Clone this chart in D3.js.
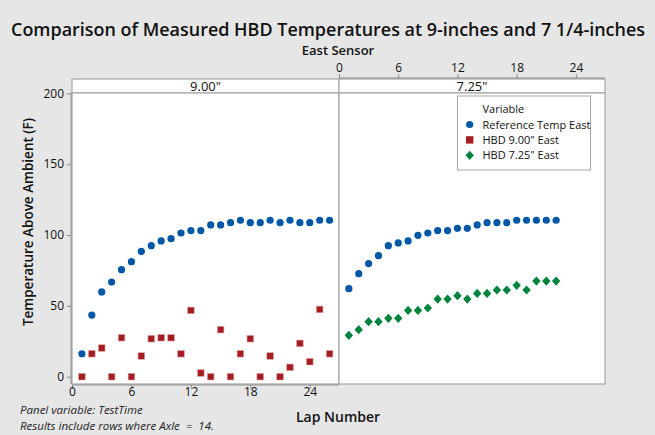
<!DOCTYPE html>
<html>
<head>
<meta charset="utf-8">
<script src="https://cdn.jsdelivr.net/npm/d3@7"></script>
<style>
  body { margin: 0; background: #e6e6e6; font-family: "Open Sans", "Noto Sans", sans-serif; }
  svg { display: block; }
</style>
</head>
<body>
<svg id="chart" width="655" height="435"></svg>
<script>
/* Minitab-style paneled scatterplot: HBD temps, East sensor */

// Left panel (9.00") laps and values
const laps900 = d3.range(1, 27);
const refTemp900 = [16.2, 43.5, 59.8, 66.8, 75.5, 81.2, 88.5, 92.5, 95.8, 97.4, 101.4, 103.1, 103.1,
  107.1, 107.1, 108.7, 110.4, 108.7, 108.7, 110.4, 108.7, 110.4, 108.7, 108.7, 110.4, 110.4];
const hbd900 = [0, 16.2, 20.2, 0, 27.5, 0, 14.6, 26.8, 27.5, 27.5, 16.2, 46.8, 2.6,
  0, 33.2, 0, 16.2, 26.8, 0, 14.6, 0, 6.6, 23.5, 10.6, 47.5, 16.2];

// Right panel (7.25") laps and values
const laps725 = d3.range(1, 23);
const refTemp725 = [62.1, 72.7, 79.8, 85.4, 92.5, 94.4, 95.8, 99.8, 101.4, 103.1, 103.1, 104.7, 104.7,
  107.1, 108.7, 108.7, 108.7, 110.4, 110.4, 110.4, 110.4, 110.4];
const hbd725 = [29.2, 33.2, 38.8, 38.8, 41.2, 41.2, 46.8, 46.8, 48.5, 54.8, 54.8, 57.2, 54.8,
  58.8, 58.8, 61.2, 61.2, 64.5, 61.2, 67.5, 67.5, 67.5];

const xTicks = [0, 6, 12, 18, 24];
const yTicks = [0, 50, 100, 150, 200];
const panelNames = ['9.00"', '7.25"'];
const legendLabels = ['Reference Temp East', 'HBD 9.00" East', 'HBD 7.25" East'];

const colors = { ref: '#0057a6', h900: '#a51d22', h725: '#00843d' };

const svg = d3.select('#chart');
const plotTop = 93, plotBottom = 384, stripTop = 79;
const panels = [
  { name: panelNames[0], x0: 72, x1: 339, laps: laps900, series: [['ref', refTemp900], ['h900', hbd900]] },
  { name: panelNames[1], x0: 339, x1: 605, laps: laps725, series: [['ref', refTemp725], ['h725', hbd725]] }
];

const y = d3.scaleLinear().domain([0, 200]).range([376.7, 93.3]);

// Title
svg.append('text').attr('x', 11).attr('y', 36)
  .attr('font-size', 18).attr('font-weight', 600).attr('fill', '#111')
  .attr('textLength', 634).attr('lengthAdjust', 'spacingAndGlyphs')
  .text('Comparison of Measured HBD Temperatures at 9-inches and 7 1/4-inches');
svg.append('text').attr('x', 338).attr('y', 55).attr('text-anchor', 'middle')
  .attr('font-size', 13).attr('font-weight', 600).attr('fill', '#111')
  .text('East Sensor');

function marker(g, kind, cx, cy) {
  if (kind === 'ref') {
    g.append('circle').attr('cx', cx).attr('cy', cy).attr('r', 3.6).attr('fill', colors.ref);
  } else if (kind === 'h900') {
    g.append('rect').attr('x', cx - 3.3).attr('y', cy - 3.3).attr('width', 6.6).attr('height', 6.6)
      .attr('fill', colors.h900).attr('stroke', '#d9a0a2').attr('stroke-width', 0.6);
  } else {
    g.append('path').attr('transform', `translate(${cx},${cy})`)
      .attr('d', 'M0,-4.6L4.2,0L0,4.6L-4.2,0Z').attr('fill', colors.h725);
  }
}

panels.forEach((p, i) => {
  const x = d3.scaleLinear().domain([0, 26.95]).range([p.x0, p.x1]);
  p.x = x;
  // strip
  svg.append('rect').attr('x', p.x0).attr('y', stripTop).attr('width', p.x1 - p.x0).attr('height', plotTop - stripTop)
    .attr('fill', '#fff').attr('stroke', '#a6a6a6').attr('stroke-width', 1.2);
  svg.append('text').attr('x', (p.x0 + p.x1) / 2).attr('y', stripTop + 11.5).attr('text-anchor', 'middle')
    .attr('font-size', 13).attr('fill', '#111').text(p.name);
  // panel
  svg.append('rect').attr('x', p.x0).attr('y', plotTop).attr('width', p.x1 - p.x0).attr('height', plotBottom - plotTop)
    .attr('fill', '#fff').attr('stroke', '#a6a6a6').attr('stroke-width', 1.2);

  const g = svg.append('g');
  p.series.forEach(([kind, vals]) => {
    vals.forEach((v, j) => marker(g, kind, x(p.laps[j]), y(v)));
  });
});

// Bottom axis on left panel, top axis on right panel
const axB = svg.append('g').attr('transform', `translate(0,${plotBottom + 1})`)
  .call(d3.axisBottom(panels[0].x).tickValues(xTicks).tickSize(4).tickPadding(2).tickSizeOuter(0));
const axT = svg.append('g').attr('transform', `translate(0,${stripTop - 1})`)
  .call(d3.axisTop(panels[1].x).tickValues(xTicks).tickSize(4).tickPadding(2).tickSizeOuter(0));
const axL = svg.append('g').attr('transform', 'translate(71,0)')
  .call(d3.axisLeft(y).tickValues(yTicks).tickSize(4).tickSizeOuter(0));
[axB, axT, axL].forEach(a => {
  a.select('.domain').remove();
  a.selectAll('line').attr('stroke', '#8c8c8c');
  a.selectAll('text').attr('font-size', 12).attr('fill', '#111')
    .attr('font-family', '"Open Sans", sans-serif');
});
axL.append('line').attr('x1', 0).attr('x2', 0).attr('y1', plotTop).attr('y2', plotBottom).attr('stroke', '#8c8c8c');
axB.append('line').attr('x1', 72).attr('x2', 339).attr('y1', 0).attr('y2', 0).attr('stroke', '#8c8c8c');
axT.append('line').attr('x1', 339).attr('x2', 605).attr('y1', 0).attr('y2', 0).attr('stroke', '#8c8c8c');
axB.selectAll('text').attr('dy', '0.42em');

// Axis titles
svg.append('text').attr('transform', 'translate(33,222) rotate(-90)').attr('text-anchor', 'middle')
  .attr('font-size', 13.5).attr('font-weight', 600).attr('fill', '#111')
  .text('Temperature Above Ambient (F)');
svg.append('text').attr('x', 338).attr('y', 422).attr('text-anchor', 'middle')
  .attr('font-size', 14).attr('font-weight', 600).attr('fill', '#111').text('Lap Number');

// Footnotes
svg.append('text').attr('x', 20).attr('y', 414).attr('font-size', 11.5).attr('font-style', 'italic')
  .attr('fill', '#222').text('Panel variable: TestTime');
svg.append('text').attr('x', 20).attr('y', 430).attr('font-size', 11.5).attr('font-style', 'italic')
  .attr('fill', '#222').attr('xml:space', 'preserve').text('Results include rows where Axle  =  14.');

// Legend
const lg = svg.append('g');
lg.append('rect').attr('x', 457.5).attr('y', 96).attr('width', 133).attr('height', 74)
  .attr('fill', '#fff').attr('stroke', '#a6a6a6').attr('stroke-width', 1);
lg.append('text').attr('x', 482.5).attr('y', 113).attr('font-size', 11).attr('fill', '#111').text('Variable');
['ref', 'h900', 'h725'].forEach((k, i) => {
  const cy = 124.5 + i * 15.4;
  if (k === 'h900') {
    lg.append('rect').attr('x', 466).attr('y', cy - 3.7).attr('width', 7.4).attr('height', 7.4).attr('fill', colors.h900);
  } else {
    marker(lg, k, 469.7, cy);
  }
  lg.append('text').attr('x', 482.5).attr('y', cy + 4).attr('font-size', 11).attr('fill', '#111').text(legendLabels[i]);
});
</script>
</body>
</html>
